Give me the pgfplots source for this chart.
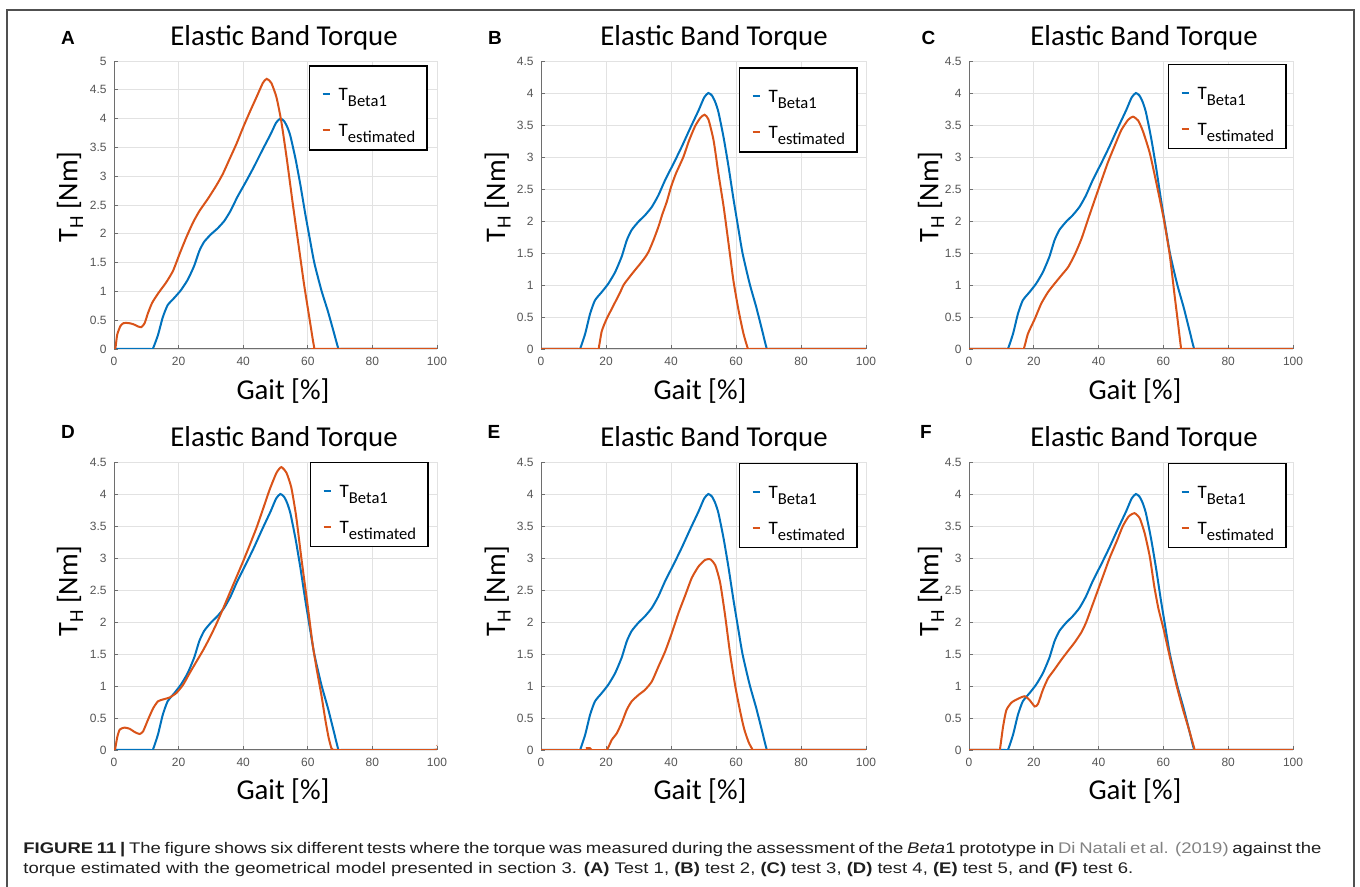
\documentclass[border=0pt]{standalone}
\usepackage{fontspec}
\usepackage{pgfplots}
\pgfplotsset{compat=1.18}
\usepackage{pgfplotstable}
\newfontfamily\calibri{Carlito}
\newfontfamily\arial{Liberation Sans}
\newfontfamily\capfont[FakeStretch=1.2]{Liberation Sans}
\definecolor{mblue}{RGB}{0,114,189}
\definecolor{morange}{RGB}{217,83,25}
\definecolor{ticklab}{RGB}{85,85,85}
\definecolor{axcol}{RGB}{110,110,110}
\definecolor{gridcol}{RGB}{226,226,226}
\definecolor{boxcol}{RGB}{80,80,80}
\definecolor{linkcol}{RGB}{130,130,130}

\pgfplotstableread{
x y
0 0
11.3 0
12 0
13.6 0.24
15.1 0.55
16.6 0.76
18.7 0.89
20.7 1.02
22.8 1.20
24.8 1.44
26.4 1.70
27.9 1.86
30 1.99
32 2.09
34.1 2.22
36.1 2.40
38.2 2.64
40.8 2.90
43.3 3.16
45.9 3.45
48.5 3.73
50.2 3.93
51.5 4.00
52.6 3.96
53.6 3.86
54.6 3.70
56.2 3.30
57.7 2.85
59.2 2.35
60.5 1.95
62 1.50
64.2 1.02
66.2 0.66
67.9 0.32
69.5 0
70.2 0
100 0
}\blueT

\pgfplotstableread{
x y
0 0
0.4 0
1 0.25
2 0.40
3 0.45
4.5 0.45
6 0.43
7.5 0.39
8.5 0.38
9.5 0.45
10.5 0.62
11.8 0.80
13.6 0.96
16.2 1.16
18.3 1.36
20.3 1.65
22.4 1.94
24.5 2.20
26.5 2.40
29.1 2.61
31.7 2.84
33.7 3.04
35.8 3.30
37.9 3.56
40 3.85
42 4.11
44.1 4.37
46.1 4.62
47.3 4.69
48.7 4.62
50.3 4.37
51.8 3.95
53.5 3.30
55.4 2.50
57.4 1.70
58.9 1.10
60.6 0.50
61.5 0.18
62.1 0
62.8 0
100 0
}\orA

\pgfplotstableread{
x y
0 0
17 0
17.7 0
18.7 0.28
20.2 0.47
22.3 0.68
24.3 0.88
25.4 1.00
26.4 1.07
28.4 1.20
30.5 1.33
32 1.43
33.1 1.52
34.6 1.70
36.2 1.92
37.3 2.10
38.7 2.30
40 2.53
41.5 2.74
43.8 3.00
45.5 3.25
47.4 3.48
49 3.61
50.3 3.66
51.5 3.59
53.1 3.26
54.6 2.74
56.2 2.22
57.7 1.65
59.2 1.07
60.8 0.60
62.3 0.24
63.7 0
64.4 0
100 0
}\orB

\pgfplotstableread{
x y
0 0
16.2 0
16.9 0
18.2 0.24
20.3 0.47
22.3 0.71
24.4 0.89
26.4 1.02
28.5 1.15
30.6 1.28
32.6 1.47
34.7 1.72
36.7 2.02
38.8 2.33
40.8 2.62
42.9 2.92
45 3.18
47 3.42
49.1 3.58
50.6 3.63
52.2 3.57
53.7 3.40
55.8 3.06
57.8 2.60
60 2.06
61.9 1.49
63.4 0.86
64.4 0.45
65.5 0
66.2 0
100 0
}\orC

\pgfplotstableread{
x y
0 0
0.3 0
1 0.20
1.8 0.32
3.3 0.35
4.9 0.33
6.4 0.28
7.9 0.25
9 0.29
10.5 0.47
12.1 0.65
13.6 0.76
15.2 0.79
17.2 0.82
19.3 0.89
21.4 1.02
23.4 1.20
25.5 1.38
27.6 1.56
29.6 1.75
31.7 1.97
33.7 2.20
35.8 2.45
37.9 2.70
40 2.95
42 3.20
44.1 3.47
46.1 3.76
48.2 4.07
50.3 4.33
51.8 4.42
53.4 4.33
54.9 4.10
56.4 3.65
58 3.00
60 2.24
61.5 1.65
62.8 1.25
64.2 0.86
65.5 0.45
66.5 0.18
67.3 0.03
67.8 0
68.5 0
99 0
100 0.08
}\orD

\pgfplotstableread{
x y
0 0
13.5 0
14.2 0.03
15 0.03
15.6 0
19.6 0
20.3 0
21.8 0.16
23.3 0.26
24.8 0.42
26.4 0.63
27.9 0.76
30 0.86
32 0.94
34.1 1.07
36.1 1.30
38.2 1.54
40.2 1.82
42.3 2.14
44.4 2.42
46.4 2.69
48.5 2.87
50.5 2.97
52.1 2.98
53.6 2.89
55.1 2.62
56.6 2.12
58.2 1.50
59.8 0.99
61.3 0.60
62.5 0.33
63.9 0.12
65.2 0
65.9 0
100 0
}\orE

\pgfplotstableread{
x y
0 0
8.8 0
9.5 0
10.5 0.36
11.5 0.62
13.1 0.74
15.1 0.80
17.2 0.84
18.7 0.78
20.3 0.68
21.3 0.72
22.8 0.94
24.4 1.12
26.4 1.26
28.5 1.41
30.6 1.55
32.6 1.68
34.7 1.84
36.2 2.00
38 2.25
39.8 2.50
41.6 2.75
43.4 3.00
45.5 3.25
47.5 3.50
49.3 3.65
51.1 3.70
52.7 3.62
54.2 3.39
55.8 3.02
57.2 2.55
58.5 2.20
60 1.90
62 1.45
64 1.02
66 0.64
68 0.30
69.7 0
70.4 0
100 0
}\orF

\newcommand\leg[2]{\rule{0pt}{12.5pt}#1\raisebox{-3pt}{\fontsize{8.3}{9}\selectfont #2}}

\pgfplotsset{
  panel/.style={
    scale only axis, height=144pt,
    xmin=0, xmax=100, ymin=0,
    xtick={0,20,40,60,80,100},
    grid=major, major grid style={gridcol, line width=0.4pt},
    axis x line*=bottom, axis y line*=left,
    axis line style={axcol, line width=0.5pt, -},
    major tick style={axcol, line width=0.4pt},
    major tick length=2pt, tick align=inside,
    tick label style={font=\arial\fontsize{6}{7}\selectfont, text=ticklab},
    /pgf/number format/assume math mode=true,
    xticklabel style={inner sep=0pt, yshift=-4pt},
    yticklabel style={inner sep=0pt, xshift=-3.5pt},
    legend cell align=left,
    legend image code/.code={\draw[##1, line width=1pt] (0pt,-2pt) -- (3.5pt,-2pt);},
    legend style={draw=black, line width=0.75pt, fill=white, anchor=north east,
      font=\calibri\fontsize{9.5}{10}\selectfont, inner xsep=6pt, inner ysep=5pt,
      row sep=4pt, nodes={inner sep=0pt},
      /tikz/every odd column/.append style={column sep=4pt}},
    every axis plot/.append style={smooth, tension=0.35, line width=1pt},
  },
  y45/.style={ymax=4.5, ytick={0,0.5,1,1.5,2,2.5,3,3.5,4,4.5},
    yticklabels={0,0.5,1,1.5,2,2.5,3,3.5,4,4.5}},
}

\begin{document}
\begin{tikzpicture}
\path[use as bounding box] (0,0) rectangle (680pt,443.5pt);
\draw[boxcol, line width=1pt] (3.5pt,0) -- (3.5pt,438.5pt) -- (677pt,438.5pt) -- (677pt,0);

% A
\begin{axis}[panel, at={(57pt,269pt)}, anchor=south west, width=161.5pt,
  ymax=5, ytick={0,0.5,1,1.5,2,2.5,3,3.5,4,4.5,5},
  yticklabels={0,0.5,1,1.5,2,2.5,3,3.5,4,4.5,5},
  legend style={at={(0.972,0.986)}}]
\addplot[mblue] table {\blueT};
\addplot[morange] table {\orA};
\addlegendentry{\leg{T}{Beta1}}
\addlegendentry{\leg{T}{estimated}}
\end{axis}
% B
\begin{axis}[panel, y45, at={(270.5pt,269pt)}, anchor=south west, width=162.5pt,
  legend style={at={(0.975,0.979)}}]
\addplot[mblue] table {\blueT};
\addplot[morange] table {\orB};
\addlegendentry{\leg{T}{Beta1}}
\addlegendentry{\leg{T}{estimated}}
\end{axis}
% C
\begin{axis}[panel, y45, at={(484.5pt,269pt)}, anchor=south west, width=162pt,
  legend style={at={(0.981,0.990)}}]
\addplot[mblue] table {\blueT};
\addplot[morange] table {\orC};
\addlegendentry{\leg{T}{Beta1}}
\addlegendentry{\leg{T}{estimated}}
\end{axis}
% D
\begin{axis}[panel, y45, at={(57pt,68.5pt)}, anchor=south west, width=161.5pt,
  legend style={at={(0.975,1.0)}}]
\addplot[mblue] table {\blueT};
\addplot[morange] table {\orD};
\addlegendentry{\leg{T}{Beta1}}
\addlegendentry{\leg{T}{estimated}}
\end{axis}
% E
\begin{axis}[panel, y45, at={(270.5pt,68.5pt)}, anchor=south west, width=162.5pt,
  legend style={at={(0.975,0.997)}}]
\addplot[mblue] table {\blueT};
\addplot[morange] table {\orE};
\addlegendentry{\leg{T}{Beta1}}
\addlegendentry{\leg{T}{estimated}}
\end{axis}
% F
\begin{axis}[panel, y45, at={(484.5pt,68.5pt)}, anchor=south west, width=162pt,
  legend style={at={(0.981,0.997)}}]
\addplot[mblue] table {\blueT};
\addplot[morange] table {\orF};
\addlegendentry{\leg{T}{Beta1}}
\addlegendentry{\leg{T}{estimated}}
\end{axis}

% titles
\foreach \xx/\yy in {142/420.5, 357/420.5, 572/420.5, 142/220.2, 357/220.2, 572/220.2}
  \node[font=\calibri\fontsize{14.4}{16}\selectfont, anchor=base, inner sep=0pt] at (\xx pt,\yy pt) {Elastic Band Torque};
% panel letters
\foreach \xx/\yy/\ll in {34/421.3/A, 247.5/421.3/B, 464.2/421.3/C, 34/224.3/D, 247/224/E, 463/224/F}
  \node[font=\arial\bfseries\fontsize{9.5}{10}\selectfont, anchor=base, inner sep=0pt] at (\xx pt,\yy pt) {\ll};
% y labels
\foreach \xx/\yy in {38.7/345, 252.5/345, 469.2/345, 38.7/148, 252.5/148, 469.2/148}
  \node[rotate=90, anchor=base, inner sep=0pt, font=\calibri\fontsize{14.2}{16}\selectfont] at (\xx pt,\yy pt) {T\raisebox{-2.8pt}{\fontsize{10}{10}\selectfont H} [Nm]};
% x labels
\foreach \xx/\yy in {141.5/243.8, 350/243.8, 567.5/243.8, 141.5/43.5, 350/43.5, 567.5/43.5}
  \node[anchor=base, inner sep=0pt, font=\calibri\fontsize{14.4}{16}\selectfont] at (\xx pt,\yy pt) {Gait [\%]};

% caption
\node[anchor=base west, text width=649pt, align=justify, inner sep=0pt,
  font=\capfont\fontsize{7.7}{10}\selectfont, text=black!88] at (11.5pt,16.5pt)
  {\textbf{FIGURE 11 |} The figure shows six different tests where the torque was measured during the assessment of the \textit{Beta}1 prototype in \textcolor{linkcol}{Di Natali et al. (2019)} against the\linebreak torque estimated with the geometrical model presented in section 3. \textbf{(A)} Test 1, \textbf{(B)} test 2, \textbf{(C)} test 3, \textbf{(D)} test 4, \textbf{(E)} test 5, and \textbf{(F)} test 6.};
\end{tikzpicture}
\end{document}
